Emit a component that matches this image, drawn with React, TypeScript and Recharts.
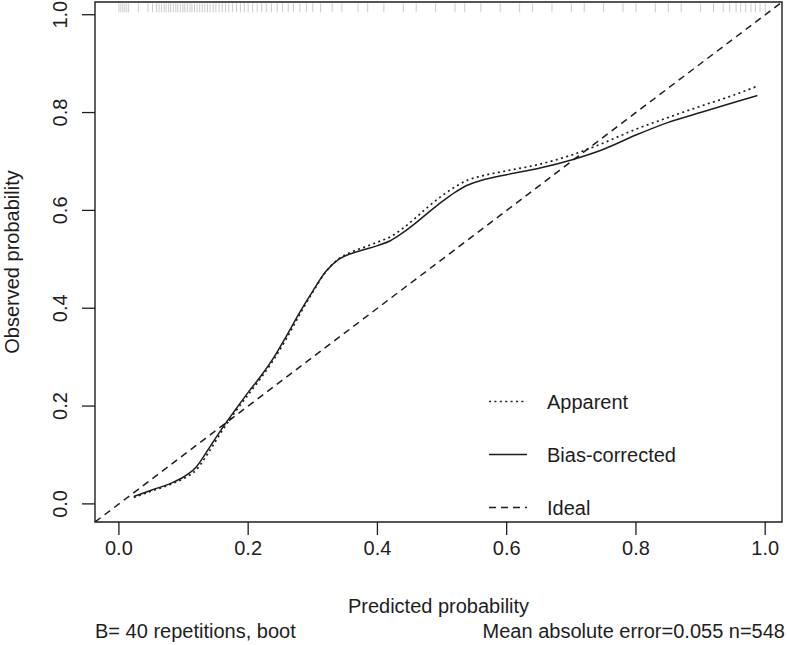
import React from "react";
import {
  ComposedChart,
  Line,
  Scatter,
  XAxis,
  YAxis,
  ReferenceArea,
  Legend,
} from "recharts";

// axis range (R pads the 0..1 range a little)
const AXIS_DOMAIN: [number, number] = [-0.037, 1.026];
const AXIS_TICKS = [0, 0.2, 0.4, 0.6, 0.8, 1.0];

// calibration curves
const predicted = [
  0.023, 0.05, 0.08, 0.1, 0.12, 0.14, 0.16, 0.18, 0.2, 0.22, 0.24, 0.26, 0.28,
  0.3, 0.32, 0.34, 0.36, 0.38, 0.4, 0.42, 0.44, 0.46, 0.48, 0.5, 0.52, 0.54,
  0.56, 0.6, 0.65, 0.7, 0.75, 0.8, 0.85, 0.9, 0.95, 0.988,
];
const apparent = [
  0.013, 0.026, 0.04, 0.052, 0.07, 0.108, 0.15, 0.188, 0.223, 0.258, 0.296,
  0.34, 0.388, 0.433, 0.474, 0.501, 0.515, 0.525, 0.535, 0.546, 0.564, 0.586,
  0.609, 0.63, 0.648, 0.662, 0.67, 0.681, 0.694, 0.713, 0.738, 0.766, 0.79,
  0.813, 0.835, 0.854,
];
const biasCorrected = [
  0.015, 0.028, 0.042, 0.055, 0.076, 0.115, 0.155, 0.192, 0.228, 0.262, 0.3,
  0.345, 0.392, 0.435, 0.475, 0.5, 0.512, 0.52, 0.528, 0.538, 0.555, 0.575,
  0.597, 0.618, 0.637, 0.652, 0.661, 0.673, 0.686, 0.703, 0.725, 0.754, 0.78,
  0.8, 0.82, 0.835,
];

// distribution of predicted risks (rug along the top)
const rugPredicted = [
  0.0, 0.003, 0.006, 0.009, 0.012, 0.015, 0.03, 0.045, 0.052, 0.058, 0.062,
  0.066, 0.07, 0.073, 0.077, 0.08, 0.084, 0.088, 0.091, 0.095, 0.099, 0.102,
  0.106, 0.11, 0.113, 0.117, 0.121, 0.125, 0.129, 0.133, 0.137, 0.141, 0.146,
  0.15, 0.155, 0.16, 0.165, 0.17, 0.176, 0.182, 0.188, 0.194, 0.2, 0.207,
  0.214, 0.221, 0.228, 0.236, 0.245, 0.253, 0.262, 0.27, 0.28, 0.29, 0.3,
  0.312, 0.33, 0.345, 0.37, 0.385, 0.41, 0.44, 0.46, 0.49, 0.52, 0.535, 0.56,
  0.59, 0.62, 0.64, 0.67, 0.7, 0.72, 0.75, 0.78, 0.8, 0.83, 0.85, 0.87, 0.9,
  0.92, 0.935, 0.945, 0.955, 0.962, 0.97, 0.978, 0.985, 0.992, 1.0,
];
const RUG_LEVEL = 1.013;

const legendNames = ["Apparent", "Bias-corrected", "Ideal"];
const xTitle = "Predicted probability";
const yTitle = "Observed probability";
const footLeft = "B= 40 repetitions, boot";
const footRight = "Mean absolute error=0.055 n=548";

const INK = "#1e1e1e";
const FONT = "'Liberation Sans', Arial, sans-serif";
const DOTTED = "2 3.4";
const DASHED = "7 5";

const apparentData = predicted.map((x, i) => ({ x, y: apparent[i] }));
const correctedData = predicted.map((x, i) => ({ x, y: biasCorrected[i] }));
const idealData = AXIS_DOMAIN.map((v) => ({ x: v, y: v }));
const rugData = rugPredicted.map((x) => ({ x, y: RUG_LEVEL }));

const fmt = (v: number) => Number(v).toFixed(1);

const XTick = (props: any) => {
  const { x, y, payload } = props;
  return (
    <text x={x} y={y + 20} textAnchor="middle" fontSize={20} fill={INK}>
      {fmt(payload.value)}
    </text>
  );
};

const YTick = (props: any) => {
  const { x, y, payload } = props;
  const bx = x - 15;
  return (
    <text
      x={bx}
      y={y}
      transform={`rotate(-90 ${bx} ${y})`}
      textAnchor="middle"
      fontSize={20}
      fill={INK}
    >
      {fmt(payload.value)}
    </text>
  );
};

const XLabels = (props: any) => {
  const { x, y, width } = props.viewBox;
  return (
    <g fontSize={20} fill={INK}>
      <text x={x + width / 2} y={y + 91} textAnchor="middle">
        {xTitle}
      </text>
      <text x={x} y={y + 116} textAnchor="start">
        {footLeft}
      </text>
      <text x={x + width + 3} y={y + 116} textAnchor="end">
        {footRight}
      </text>
    </g>
  );
};

const YLabel = (props: any) => {
  const { x, y, height } = props.viewBox;
  const bx = x + 19;
  const cy = y + height / 2;
  return (
    <text
      x={bx}
      y={cy}
      transform={`rotate(-90 ${bx} ${cy})`}
      textAnchor="middle"
      fontSize={20}
      fill={INK}
    >
      {yTitle}
    </text>
  );
};

const RugTick = (props: any) => {
  const { cx, cy } = props;
  return (
    <line x1={cx} x2={cx} y1={cy - 5} y2={cy + 4} stroke="#b4b4b4" strokeWidth={0.7} />
  );
};

const legendDash = [DOTTED, undefined, DASHED];

const CalLegend = () => (
  <svg width={220} height={145} style={{ fontFamily: FONT }}>
    {legendNames.map((name, i) => {
      const cy = 21.5 + i * 53;
      return (
        <g key={name}>
          <line
            x1={9}
            x2={47}
            y1={cy}
            y2={cy}
            stroke={INK}
            strokeWidth={1.5}
            strokeDasharray={legendDash[i]}
          />
          <text x={67} y={cy + 7} fontSize={20} fill={INK}>
            {name}
          </text>
        </g>
      );
    })}
  </svg>
);

export default function App() {
  return (
    <div
      style={{
        position: "absolute",
        left: 0,
        top: 0,
        width: 787,
        height: 645,
        background: "#fff",
        fontFamily: FONT,
      }}
    >
      <ComposedChart
        width={787}
        height={645}
        margin={{ top: 2, right: 5, bottom: 0, left: 0 }}
        style={{ fontFamily: FONT }}
      >
        <XAxis
          type="number"
          dataKey="x"
          domain={AXIS_DOMAIN}
          ticks={AXIS_TICKS}
          allowDataOverflow
          height={123}
          axisLine={false}
          tickSize={13}
          tickMargin={0}
          tickLine={{ stroke: INK, strokeWidth: 1.3 }}
          tick={<XTick />}
          label={{ content: <XLabels /> }}
        />
        <YAxis
          type="number"
          dataKey="y"
          domain={AXIS_DOMAIN}
          ticks={AXIS_TICKS}
          allowDataOverflow
          width={95}
          axisLine={false}
          tickSize={13}
          tickMargin={0}
          tickLine={{ stroke: INK, strokeWidth: 1.3 }}
          tick={<YTick />}
          label={{ content: <YLabel /> }}
        />
        <ReferenceArea
          x1={AXIS_DOMAIN[0]}
          x2={AXIS_DOMAIN[1]}
          y1={AXIS_DOMAIN[0]}
          y2={AXIS_DOMAIN[1]}
          fill="none"
          fillOpacity={0}
          stroke={INK}
          strokeWidth={1.4}
        />
        <Scatter
          data={rugData}
          dataKey="y"
          shape={<RugTick />}
          isAnimationActive={false}
          legendType="none"
        />
        <Line
          data={idealData}
          dataKey="y"
          type="linear"
          stroke={INK}
          strokeWidth={1.5}
          strokeDasharray={DASHED}
          dot={false}
          activeDot={false}
          isAnimationActive={false}
        />
        <Line
          data={apparentData}
          dataKey="y"
          type="monotone"
          stroke={INK}
          strokeWidth={1.7}
          strokeDasharray={DOTTED}
          dot={false}
          activeDot={false}
          isAnimationActive={false}
        />
        <Line
          data={correctedData}
          dataKey="y"
          type="monotone"
          stroke={INK}
          strokeWidth={1.5}
          dot={false}
          activeDot={false}
          isAnimationActive={false}
        />
        <Legend
          layout="vertical"
          align="center"
          verticalAlign="middle"
          content={<CalLegend />}
          wrapperStyle={{ position: "absolute", left: 480, top: 380, width: 220 }}
        />
      </ComposedChart>
    </div>
  );
}
